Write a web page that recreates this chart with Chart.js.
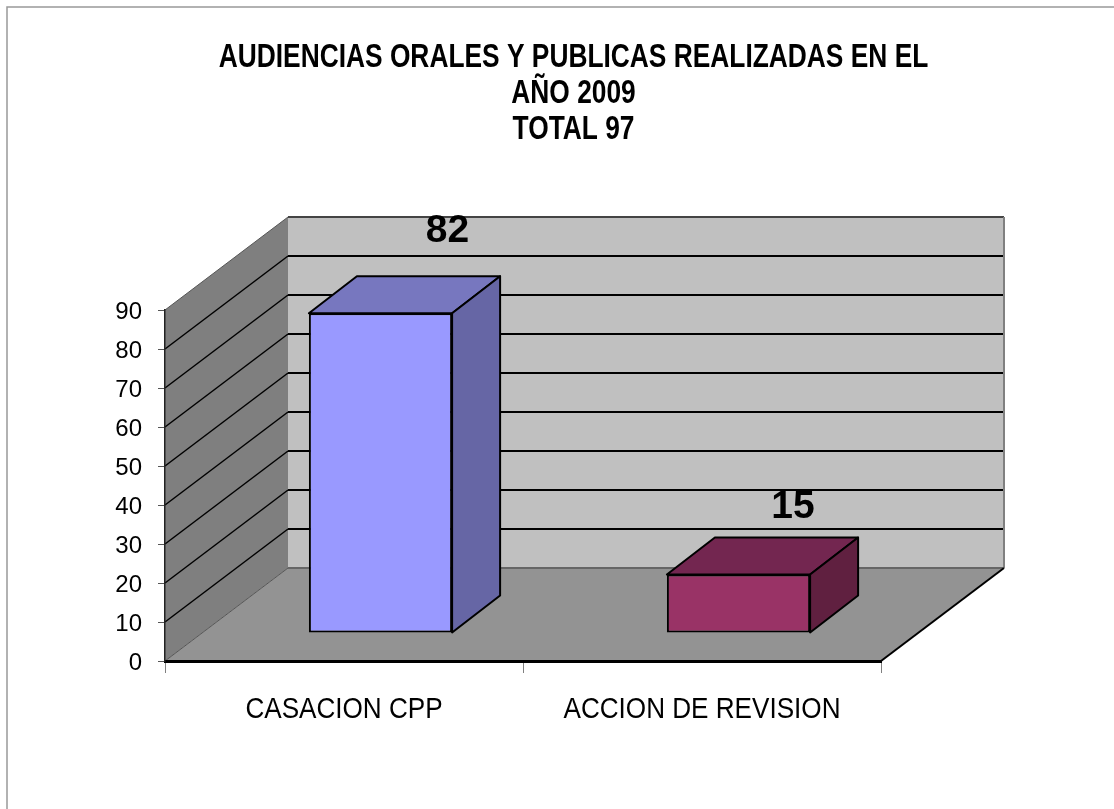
<!DOCTYPE html>
<html>
<head>
<meta charset="utf-8">
<style>
  html, body { margin: 0; background: #fff; }
  canvas { display: block; }
</style>
<script src="https://cdn.jsdelivr.net/npm/chart.js@4"></script>
</head>
<body>
<canvas id="chart" width="1114" height="809"></canvas>
<script>
const titleLines = ['AUDIENCIAS ORALES Y PUBLICAS REALIZADAS EN EL', 'AÑO 2009', 'TOTAL 97'];
const categories = ['CASACION CPP', 'ACCION DE REVISION'];
const audiencias = [82, 15];
const barColors = ['#9999FF', '#993366'];
const topColors = ['#7777BF', '#732650'];
const sideColors = ['#6666A5', '#602040'];

// profundidad del grafico 3D
const floorDepth = { x: 123, y: 93 };
const barShift = { x: 36.5, y: 28 };
const barDepth = { x: 48, y: 37 };
const labelShift = [{ x: 103.5, y: -110 }, { x: 91, y: -95 }];

function poly(ctx, pts, fill, stroke, lw) {
  ctx.beginPath();
  pts.forEach((p, i) => (i ? ctx.lineTo(p[0], p[1]) : ctx.moveTo(p[0], p[1])));
  ctx.closePath();
  ctx.fillStyle = fill;
  ctx.fill();
  if (stroke) {
    ctx.strokeStyle = stroke;
    ctx.lineWidth = lw;
    ctx.lineJoin = 'round';
    ctx.stroke();
  }
}

// texto angosto: el original usa una fuente comprimida horizontalmente
function narrowText(ctx, text, x, y, ratio) {
  ctx.fillText(text, x, y, ctx.measureText(text).width * ratio);
}

const walls3d = {
  id: 'walls3d',
  beforeDraw(chart) {
    const { ctx, chartArea: a, scales } = chart;
    const dx = floorDepth.x, dy = floorDepth.y;
    ctx.save();
    // marco exterior
    ctx.strokeStyle = '#999999';
    ctx.lineWidth = 1.5;
    ctx.beginPath();
    ctx.moveTo(7, 809);
    ctx.lineTo(7, 7);
    ctx.lineTo(1114, 7);
    ctx.stroke();

    poly(ctx, [[a.left + dx, a.top - dy], [a.right + dx, a.top - dy], [a.right + dx, a.bottom - dy], [a.left + dx, a.bottom - dy]], '#C0C0C0');
    poly(ctx, [[a.left, a.top], [a.left + dx, a.top - dy], [a.left + dx, a.bottom - dy], [a.left, a.bottom]], '#7F7F7F');
    poly(ctx, [[a.left, a.bottom], [a.left + dx, a.bottom - dy], [a.right + dx, a.bottom - dy], [a.right, a.bottom]], '#939393');

    // lineas de division en las paredes
    scales.y.ticks.forEach(t => {
      const py = scales.y.getPixelForValue(t.value);
      const isEdge = t.value === 0 || t.value === 90;
      ctx.beginPath();
      ctx.moveTo(a.left, py);
      ctx.lineTo(a.left + dx, py - dy);
      ctx.strokeStyle = isEdge ? '#555555' : '#000000';
      ctx.lineWidth = isEdge ? 1 : 1.5;
      ctx.stroke();
      ctx.beginPath();
      ctx.moveTo(a.left + dx, py - dy);
      ctx.lineTo(a.right + dx, py - dy);
      ctx.strokeStyle = t.value === 0 ? '#666666' : t.value === 90 ? '#444444' : '#000000';
      ctx.lineWidth = 2;
      ctx.stroke();
    });
    // bordes de la pared y del piso
    ctx.strokeStyle = '#808080';
    ctx.lineWidth = 2;
    ctx.beginPath();
    ctx.moveTo(a.right + dx, a.top - dy);
    ctx.lineTo(a.right + dx, a.bottom - dy);
    ctx.stroke();
    ctx.strokeStyle = '#000000';
    ctx.lineWidth = 2;
    ctx.beginPath();
    ctx.moveTo(a.right, a.bottom);
    ctx.lineTo(a.right + dx, a.bottom - dy);
    ctx.stroke();
    ctx.restore();
  },
  beforeDatasetDraw(chart) {
    chart.ctx.save();
    chart.ctx.translate(barShift.x, -barShift.y);
  },
  afterDatasetDraw(chart, args) {
    const { ctx } = chart;
    args.meta.data.forEach((bar, i) => {
      const { x, y, base, width } = bar.getProps(['x', 'y', 'base', 'width'], true);
      const l = x - width / 2, r = x + width / 2;
      const dx = barDepth.x, dy = barDepth.y;
      poly(ctx, [[l, y], [l + dx, y - dy], [r + dx, y - dy], [r, y]], topColors[i], '#000000', 2);
      poly(ctx, [[r, y], [r + dx, y - dy], [r + dx, base - dy], [r, base]], sideColors[i], '#000000', 2);
    });
    ctx.restore();
    // etiquetas de valores
    ctx.save();
    ctx.font = 'bold 39px "Liberation Sans"';
    ctx.fillStyle = '#000000';
    ctx.textAlign = 'center';
    ctx.textBaseline = 'middle';
    args.meta.data.forEach((bar, i) => {
      ctx.fillText(String(audiencias[i]), bar.x + labelShift[i].x, bar.y + labelShift[i].y);
    });
    ctx.restore();
  },
  afterDraw(chart) {
    const { ctx, scales } = chart;
    ctx.save();
    ctx.fillStyle = '#000000';
    ctx.textAlign = 'center';
    ctx.textBaseline = 'alphabetic';
    // titulo
    ctx.font = 'bold 33px "Liberation Sans"';
    titleLines.forEach((line, i) => narrowText(ctx, line, 573.5, 67 + i * 36, 0.798));
    // categorias
    ctx.font = '30px "Liberation Sans"';
    categories.forEach((c, i) => narrowText(ctx, c, scales.x.getPixelForTick(i), 718, 0.87));
    ctx.restore();
  }
};

new Chart(document.getElementById('chart'), {
  type: 'bar',
  data: {
    labels: categories,
    datasets: [{
      data: audiencias,
      backgroundColor: barColors,
      borderColor: '#000000',
      borderWidth: 2,
      borderSkipped: false,
      barPercentage: 0.4,
      categoryPercentage: 1,
      clip: false
    }]
  },
  plugins: [walls3d],
  options: {
    responsive: false,
    animation: false,
    layout: { padding: { left: 0, right: 233, top: 310, bottom: 0 } },
    plugins: {
      legend: { display: false },
      tooltip: { enabled: false },
      title: { display: false }
    },
    scales: {
      x: {
        grid: { drawOnChartArea: false, offset: true, tickLength: 12, color: '#808080' },
        border: { color: '#000000', width: 3 },
        ticks: { display: false },
        afterFit: s => { s.height = 148; }
      },
      y: {
        min: 0,
        max: 90,
        ticks: { stepSize: 10, color: '#000000', padding: 16, labelOffset: 2, font: { family: '"Liberation Sans"', size: 24 } },
        grid: { drawOnChartArea: false, tickLength: 7, color: '#555555' },
        border: { color: '#222222', width: 1.5 },
        afterFit: s => { s.width = 165; }
      }
    }
  }
});
</script>
</body>
</html>
